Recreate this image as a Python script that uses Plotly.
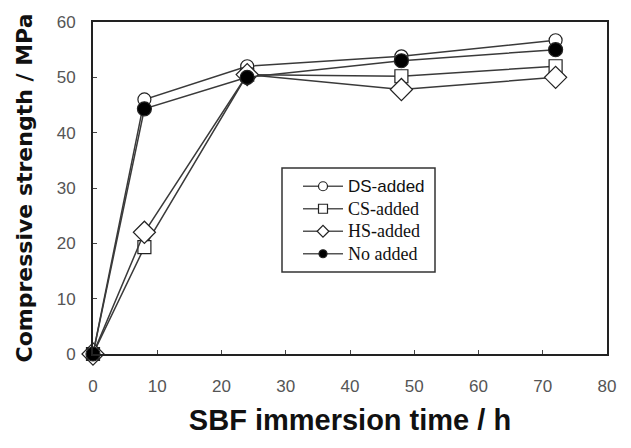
import plotly.graph_objects as go

time_h = [0, 8, 24, 48, 72]
ds_added = [0, 46, 52, 53.8, 56.7]
cs_added = [0, 19.3, 50.5, 50.2, 52]
hs_added = [0, 22, 50.5, 47.8, 50]
no_added = [0, 44.3, 50, 53, 55]

series_names = ["DS-added", "CS-added", "HS-added", "No added"]
name_fonts = [("Arial", 17), ("Liberation Serif", 18), ("Liberation Serif", 18), ("Liberation Serif", 18)]

line_col = "#3a3a3a"
fig = go.Figure()
specs = [
    (ds_added, "circle", 13, 9, "white"),
    (cs_added, "square", 13, 9, "white"),
    (hs_added, "diamond", 17, 9, "white"),
    (no_added, "circle", 14, 8, "black"),
]
for (ys, sym, sz, lsz, fill), nm, (fnt, fs) in zip(specs, series_names, name_fonts):
    fig.add_trace(go.Scatter(
        x=time_h, y=ys, mode="lines+markers", showlegend=False,
        line=dict(color=line_col, width=1.5),
        marker=dict(symbol=sym, size=sz, color=fill,
                    line=dict(color="#222222", width=1.2)),
        cliponaxis=False,
    ))
    # legend-only entry with smaller symbol
    fig.add_trace(go.Scatter(
        x=[None], y=[None], mode="lines+markers",
        name=f'<span style="font-family:{fnt};font-size:{fs}px">{nm}</span>',
        line=dict(color="#555555", width=1.5),
        marker=dict(symbol=sym, size=lsz, color=fill,
                    line=dict(color="#222222", width=1.2)),
    ))

# legend frame (ref px 282-435 x 168-272 inside plot 93-607 x 22-354)
fig.add_shape(type="rect", xref="paper", yref="paper",
              x0=(282 - 93) / 514, x1=(435 - 93) / 514,
              y0=(354 - 272) / 332, y1=(354 - 168) / 332,
              line=dict(color="#333333", width=1.5), fillcolor="white", layer="below")

fig.update_layout(
    width=623, height=440,
    margin=dict(l=85, r=24, t=14, b=94),
    paper_bgcolor="white", plot_bgcolor="white",
    showlegend=True,
    legend=dict(x=(298 - 93) / 514, y=(354 - 170) / 332, xanchor="left", yanchor="top",
                borderwidth=0, bgcolor="rgba(0,0,0,0)",
                font=dict(family="Arial", size=15, color="#111111"), tracegroupgap=0,
                itemwidth=40),
    font=dict(family="Arial", color="#333333"),
)
fig.update_xaxes(range=[0, 80], dtick=10, showline=True, mirror=True,
                 linecolor="#222222", linewidth=2, ticks="inside", ticklen=4,
                 tickcolor="#444444", showgrid=False, zeroline=False,
                 ticklabelstandoff=16, automargin=False,
                 tickfont=dict(size=17, color="#555555"),
                 title=dict(text="<b>SBF immersion time / h</b>", standoff=14,
                            font=dict(size=29, color="#111111")))
fig.update_yaxes(range=[0, 60], dtick=10, showline=True, mirror=True,
                 linecolor="#222222", linewidth=2, ticks="inside", ticklen=4,
                 tickcolor="#444444", showgrid=False, zeroline=False,
                 ticklabelstandoff=12, automargin=False,
                 tickfont=dict(size=17, color="#555555"),
                 title=dict(text="<b>Compressive strength / MPa</b>", standoff=18,
                            font=dict(family="DejaVu Sans", size=22, color="#111111")))

fig.write_html("out.html")
